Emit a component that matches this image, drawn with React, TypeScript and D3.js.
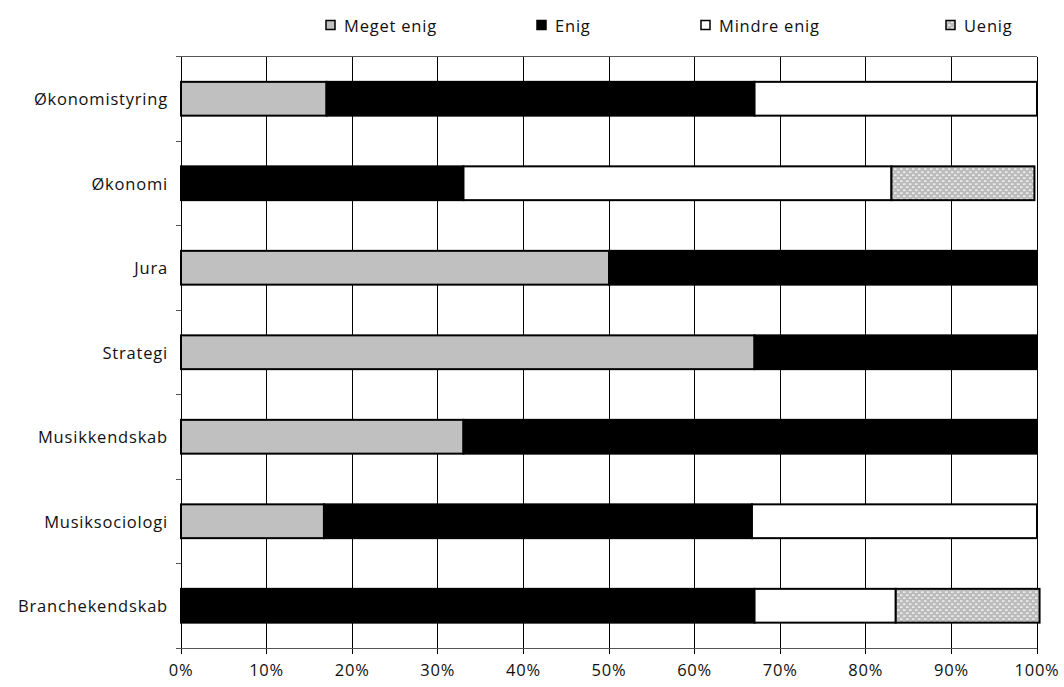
import React from "react";
import * as d3 from "d3";

const categories = ["Økonomistyring", "Økonomi", "Jura", "Strategi", "Musikkendskab", "Musiksociologi", "Branchekendskab"];
const seriesNames = ["Meget enig", "Enig", "Mindre enig", "Uenig"];
const megetEnig = [17, 0, 50, 67, 33, 16.7, 0];
const enig = [50, 33, 50, 33, 67, 50, 67];
const mindreEnig = [33, 50, 0, 0, 0, 33.3, 16.5];
const uenig = [0, 16.7, 0, 0, 0, 0, 16.8];
const xTicks = [0, 10, 20, 30, 40, 50, 60, 70, 80, 90, 100];

const seriesValues = [megetEnig, enig, mindreEnig, uenig];
const fills = ["#c0c0c0", "#000000", "#ffffff", "url(#uenigPat)"];
const legendX = [330, 541, 705, 950];

export default function App() {
  const W = 1064, H = 687;
  const left = 181, right = 1037, top = 56.5, bottom = 648;
  const x = d3.scaleLinear().domain([0, 100]).range([left, right]);
  const y = d3.scaleBand().domain(categories).range([top, bottom]).paddingInner(0.6).paddingOuter(0.3);
  const yb = d3.scaleBand().domain(categories).range([top, bottom]);
  const font = "'Open Sans', 'Noto Sans', sans-serif";
  const fs = 16.5;
  const ls = 0.8;

  const bars: any[] = [];
  categories.forEach((c, i) => {
    let acc = 0;
    seriesValues.forEach((s, k) => {
      const v = s[i];
      if (v > 0) {
        bars.push({ c, k, x0: acc, x1: acc + v });
      }
      acc += v;
    });
  });

  return (
    <svg width={W} height={H} style={{ position: "absolute", left: 0, top: 0, background: "#fff" }}>
      <defs>
        <pattern id="uenigPat" width="6" height="6" patternUnits="userSpaceOnUse">
          <rect width="6" height="6" fill="#bcbcbc" />
          <rect x="0" y="0.5" width="2.5" height="1.2" fill="#ffffff" />
          <rect x="3" y="3.5" width="2.5" height="1.2" fill="#ffffff" />
        </pattern>
      </defs>
      {xTicks.map((t) => (
        <line key={"g" + t} x1={x(t)} x2={x(t)} y1={top} y2={bottom + 6} stroke="#000" strokeWidth={1} shapeRendering="crispEdges" />
      ))}
      <line x1={left - 5} x2={right} y1={top} y2={top} stroke="#555" strokeWidth={1} shapeRendering="crispEdges" />
      <line x1={left} x2={right} y1={bottom} y2={bottom} stroke="#555" strokeWidth={1} shapeRendering="crispEdges" />
      {categories.map((c) => (
        <line key={"yt" + c} x1={left - 5} x2={left} y1={(yb(c) as number) + yb.bandwidth()} y2={(yb(c) as number) + yb.bandwidth()} stroke="#555" strokeWidth={1} shapeRendering="crispEdges" />
      ))}
      {bars.map((b, i) => (
        <rect key={i} x={x(b.x0)} y={y(b.c)} width={x(b.x1) - x(b.x0)} height={y.bandwidth()} fill={fills[b.k]} stroke="#000" strokeWidth={2} />
      ))}
      {categories.map((c) => (
        <text key={"yl" + c} x={168} y={(yb(c) as number) + yb.bandwidth() / 2} textAnchor="end" dominantBaseline="central" fontFamily={font} fontSize={fs} letterSpacing={ls} fill="#111">{c}</text>
      ))}
      {xTicks.map((t) => (
        <text key={"xl" + t} x={x(t)} y={669} textAnchor="middle" dominantBaseline="central" fontFamily={font} fontSize={fs} letterSpacing={ls} fill="#111">{t + "%"}</text>
      ))}
      {seriesNames.map((n, k) => (
        <g key={n}>
          <rect x={legendX[k] - 4} y={20.5} width={9} height={9} fill={fills[k]} stroke="#000" strokeWidth={1.5} />
          <text x={legendX[k] + 14} y={25.5} dominantBaseline="central" fontFamily={font} fontSize={fs} letterSpacing={ls} fill="#111">{n}</text>
        </g>
      ))}
    </svg>
  );
}
